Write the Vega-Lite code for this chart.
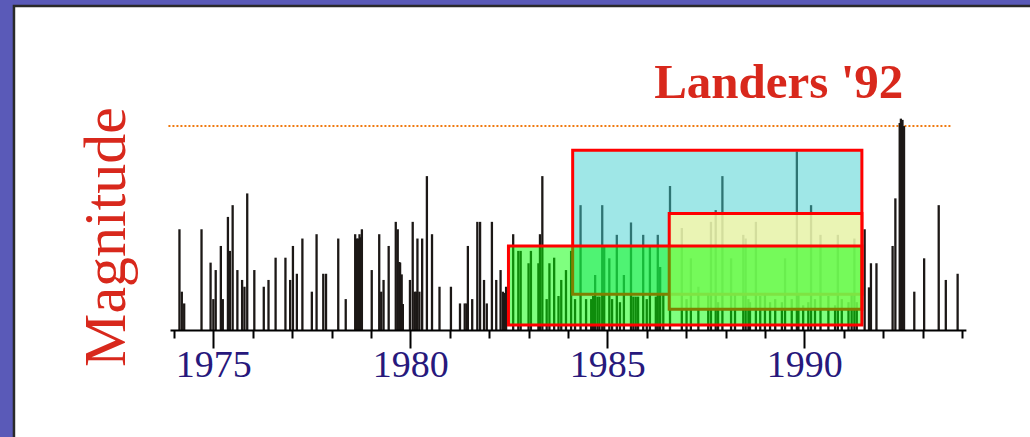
{
  "$schema": "https://vega.github.io/schema/vega-lite/v6.json",
  "autosize": {"type": "none"},
  "width": 795.9,
  "height": 247.2,
  "padding": {"left": 170, "top": 82.8, "right": 64.1, "bottom": 107},
  "background": "#5a5ab8",
  "config": {"view": {"stroke": null}},
  "datasets": {
    "quakes": [
      {"year":1974.14,"mag":5.63},{"year":1974.20,"mag":4.62},{"year":1974.26,"mag":4.43},{"year":1974.70,"mag":5.63},
      {"year":1974.93,"mag":5.09},{"year":1975.00,"mag":4.50},{"year":1975.06,"mag":4.97},{"year":1975.19,"mag":5.36},
      {"year":1975.24,"mag":4.50},{"year":1975.37,"mag":5.83},{"year":1975.42,"mag":5.28},{"year":1975.49,"mag":6.02},
      {"year":1975.61,"mag":4.97},{"year":1975.73,"mag":4.81},{"year":1975.79,"mag":4.70},{"year":1975.86,"mag":6.21},
      {"year":1976.04,"mag":4.97},{"year":1976.28,"mag":4.70},{"year":1976.40,"mag":4.81},{"year":1976.58,"mag":5.17},
      {"year":1976.83,"mag":5.17},{"year":1976.95,"mag":4.81},{"year":1977.02,"mag":5.36},{"year":1977.12,"mag":4.91},
      {"year":1977.26,"mag":5.48},{"year":1977.50,"mag":4.62},{"year":1977.62,"mag":5.55},{"year":1977.79,"mag":4.91},
      {"year":1977.86,"mag":4.91},{"year":1978.17,"mag":5.48},{"year":1978.36,"mag":4.50},{"year":1978.60,"mag":5.55},
      {"year":1978.64,"mag":5.48},{"year":1978.67,"mag":5.48},{"year":1978.71,"mag":5.55},{"year":1978.74,"mag":5.50},
      {"year":1978.77,"mag":5.63},{"year":1979.02,"mag":4.97},{"year":1979.21,"mag":5.55},{"year":1979.26,"mag":4.62},
      {"year":1979.32,"mag":4.81},{"year":1979.45,"mag":5.36},{"year":1979.63,"mag":5.75},{"year":1979.68,"mag":5.63},
      {"year":1979.72,"mag":5.10},{"year":1979.74,"mag":5.09},{"year":1979.78,"mag":4.90},{"year":1979.81,"mag":4.42},
      {"year":1979.99,"mag":4.81},{"year":1980.06,"mag":5.75},{"year":1980.11,"mag":4.62},{"year":1980.15,"mag":4.62},
      {"year":1980.18,"mag":5.48},{"year":1980.23,"mag":4.62},{"year":1980.30,"mag":5.48},{"year":1980.42,"mag":6.49},
      {"year":1980.55,"mag":5.55},{"year":1980.74,"mag":4.70},{"year":1981.03,"mag":4.70},{"year":1981.26,"mag":4.43},
      {"year":1981.38,"mag":4.43},{"year":1981.43,"mag":4.43},{"year":1981.46,"mag":5.36},{"year":1981.57,"mag":4.50},
      {"year":1981.70,"mag":5.75},{"year":1981.77,"mag":5.75},{"year":1981.87,"mag":4.81},{"year":1981.94,"mag":4.43},
      {"year":1982.07,"mag":5.75},{"year":1982.18,"mag":4.81},{"year":1982.29,"mag":4.97},{"year":1982.35,"mag":4.62},
      {"year":1982.39,"mag":4.60},{"year":1982.43,"mag":4.70},{"year":1982.61,"mag":5.55},{"year":1982.74,"mag":5.28},
      {"year":1982.80,"mag":5.28},{"year":1983.00,"mag":5.08},{"year":1983.06,"mag":5.28},{"year":1983.25,"mag":5.08},
      {"year":1983.29,"mag":5.55},{"year":1983.35,"mag":6.49},{"year":1983.46,"mag":4.50},{"year":1983.53,"mag":5.08},
      {"year":1983.65,"mag":5.17},{"year":1983.76,"mag":4.55},{"year":1983.83,"mag":4.81},{"year":1983.95,"mag":4.97},
      {"year":1984.08,"mag":5.28},{"year":1984.18,"mag":4.50},{"year":1984.32,"mag":6.02},{"year":1984.46,"mag":4.50},
      {"year":1984.59,"mag":4.50},{"year":1984.64,"mag":4.55},{"year":1984.69,"mag":4.89},{"year":1984.75,"mag":4.54},
      {"year":1984.80,"mag":4.54},{"year":1984.87,"mag":6.02},{"year":1984.92,"mag":5.36},{"year":1985.05,"mag":5.16},
      {"year":1985.12,"mag":4.50},{"year":1985.24,"mag":5.54},{"year":1985.32,"mag":4.45},{"year":1985.42,"mag":4.89},
      {"year":1985.60,"mag":5.74},{"year":1985.66,"mag":4.54},{"year":1985.72,"mag":4.54},{"year":1985.78,"mag":4.54},
      {"year":1985.91,"mag":5.54},{"year":1986.00,"mag":4.50},{"year":1986.08,"mag":5.35},{"year":1986.23,"mag":4.54},
      {"year":1986.28,"mag":5.54},{"year":1986.34,"mag":5.02},{"year":1986.42,"mag":4.60},{"year":1986.59,"mag":6.33},
      {"year":1986.89,"mag":5.65},{"year":1987.01,"mag":4.50},{"year":1987.12,"mag":5.16},{"year":1987.31,"mag":4.70},
      {"year":1987.56,"mag":4.60},{"year":1987.63,"mag":5.75},{"year":1987.75,"mag":5.94},{"year":1987.81,"mag":4.45},
      {"year":1987.92,"mag":6.49},{"year":1988.14,"mag":5.16},{"year":1988.24,"mag":4.60},{"year":1988.45,"mag":5.54},
      {"year":1988.51,"mag":5.48},{"year":1988.58,"mag":4.50},{"year":1988.62,"mag":4.45},{"year":1988.77,"mag":5.75},
      {"year":1988.88,"mag":4.55},{"year":1989.00,"mag":4.60},{"year":1989.13,"mag":4.45},{"year":1989.26,"mag":4.50},
      {"year":1989.43,"mag":4.45},{"year":1989.51,"mag":5.16},{"year":1989.68,"mag":4.50},{"year":1989.81,"mag":6.89},
      {"year":1989.85,"mag":4.60},{"year":1989.97,"mag":4.40},{"year":1990.10,"mag":4.45},{"year":1990.17,"mag":6.02},
      {"year":1990.27,"mag":4.50},{"year":1990.41,"mag":5.54},{"year":1990.61,"mag":4.55},{"year":1990.78,"mag":4.40},
      {"year":1990.85,"mag":5.54},{"year":1990.95,"mag":4.50},{"year":1991.12,"mag":4.45},{"year":1991.20,"mag":4.60},
      {"year":1991.27,"mag":5.48},{"year":1991.33,"mag":4.45},{"year":1991.53,"mag":5.63},{"year":1991.64,"mag":4.69},
      {"year":1991.69,"mag":5.08},{"year":1991.83,"mag":5.08},{"year":1992.24,"mag":5.36},{"year":1992.31,"mag":6.13},
      {"year":1992.42,"mag":7.35},{"year":1992.45,"mag":7.42},{"year":1992.49,"mag":7.40},{"year":1992.53,"mag":7.30},
      {"year":1992.79,"mag":4.62},{"year":1993.04,"mag":5.16},{"year":1993.41,"mag":6.02},{"year":1993.59,"mag":4.81},
      {"year":1993.89,"mag":4.91}
    ],
    "boxes": [
      {"name":"cyan","x1":1984.12,"x2":1991.46,"m1":6.91,"m2":4.58},
      {"name":"yellow","x1":1986.57,"x2":1991.46,"m1":5.885,"m2":4.335},
      {"name":"green","x1":1982.49,"x2":1991.46,"m1":5.36,"m2":4.08}
    ]
  },
  "layer": [
    {
      "data": {"values": [{}]},
      "mark": {"type": "rect", "fill": "#ffffff", "stroke": "#2a2a2a", "strokeWidth": 2.5},
      "encoding": {
        "x": {"datum": 1969.94, "type": "quantitative", "title": null, "scale": {"domain": [1973.9, 1994.1], "nice": false, "zero": false}},
        "x2": {"datum": 1996.5},
        "y": {"datum": 9.243, "type": "quantitative", "title": "Magnitude", "scale": {"domain": [4, 8], "nice": false, "zero": false}},
        "y2": {"datum": 2.0}
      }
    },
    {
      "data": {"values": [{}]},
      "mark": {"type": "rule", "stroke": "#f07a10", "strokeWidth": 2, "strokeDash": [2, 2]},
      "encoding": {
        "x": {"datum": 1973.86, "type": "quantitative", "title": null},
        "x2": {"datum": 1993.74},
        "y": {"datum": 7.3, "type": "quantitative", "title": "Magnitude"}
      }
    },
    {
      "data": {"name": "quakes"},
      "mark": {"type": "rule", "stroke": "#1c1816", "strokeWidth": 2.3},
      "encoding": {
        "x": {
          "field": "year",
          "type": "quantitative",
          "title": null,
          "axis": {
            "zindex": 1,
            "title": null,
            "grid": false,
            "values": [1974,1975,1976,1977,1978,1979,1980,1981,1982,1983,1984,1985,1986,1987,1988,1989,1990,1991,1992,1993,1994],
            "tickCount": 21,
            "domain": true,
            "domainColor": "#000000",
            "domainWidth": 2,
            "ticks": true,
            "tickColor": "#000000",
            "tickWidth": 2,
            "tickSize": {"condition": {"test": "datum.value % 5 === 0", "value": 18}, "value": 8},
            "labelExpr": "datum.value % 5 === 0 ? format(datum.value, 'd') : ''",
            "labelFont": "Liberation Serif",
            "labelFontSize": 38,
            "labelColor": "#27187c",
            "labelBaseline": "alphabetic",
            "labelPadding": 28,
            "labelFlush": false,
            "labelOverlap": false,
            "labelBound": false
          }
        },
        "y": {
          "field": "mag",
          "type": "quantitative",
          "title": "Magnitude",
          "axis": {
            "zindex": 1,
            "title": "Magnitude",
            "grid": false,
            "domain": false,
            "ticks": false,
            "labels": false,
            "titleFont": "Liberation Serif",
            "titleFontSize": 60,
            "titleFontWeight": "normal",
            "titleColor": "#d8281c",
            "titleAngle": 270,
            "titleAlign": "center",
            "titleBaseline": "alphabetic",
            "titleX": -46,
            "titleY": 153.7
          }
        },
        "y2": {"datum": 4}
      }
    },
    {
      "data": {"name": "boxes"},
      "transform": [{"filter": "datum.name === 'cyan'"}],
      "mark": {"type": "rect", "fill": "#3fcfcf", "fillOpacity": 0.5, "stroke": "#ff0000", "strokeWidth": 3},
      "encoding": {
        "x": {"field": "x1", "type": "quantitative", "title": null},
        "x2": {"field": "x2"},
        "y": {"field": "m1", "type": "quantitative", "title": "Magnitude"},
        "y2": {"field": "m2"}
      }
    },
    {
      "data": {"name": "boxes"},
      "transform": [{"filter": "datum.name === 'yellow'"}],
      "mark": {"type": "rect", "fill": "#fdf8a8", "fillOpacity": 0.8, "stroke": "#ff0000", "strokeWidth": 3},
      "encoding": {
        "x": {"field": "x1", "type": "quantitative", "title": null},
        "x2": {"field": "x2"},
        "y": {"field": "m1", "type": "quantitative", "title": "Magnitude"},
        "y2": {"field": "m2"}
      }
    },
    {
      "data": {"name": "boxes"},
      "transform": [{"filter": "datum.name === 'green'"}],
      "mark": {"type": "rect", "fill": "#00ff00", "fillOpacity": 0.5, "stroke": "#ff0000", "strokeWidth": 3},
      "encoding": {
        "x": {"field": "x1", "type": "quantitative", "title": null},
        "x2": {"field": "x2"},
        "y": {"field": "m1", "type": "quantitative", "title": "Magnitude"},
        "y2": {"field": "m2"}
      }
    },
    {
      "data": {"values": [{}]},
      "mark": {"type": "text", "text": "Landers '92", "font": "Liberation Serif", "fontWeight": "bold", "fontSize": 49, "fill": "#d8281c", "align": "right", "baseline": "alphabetic"},
      "encoding": {
        "x": {"datum": 1992.51, "type": "quantitative", "title": null},
        "y": {"datum": 7.749, "type": "quantitative", "title": "Magnitude"}
      }
    }
  ]
}
